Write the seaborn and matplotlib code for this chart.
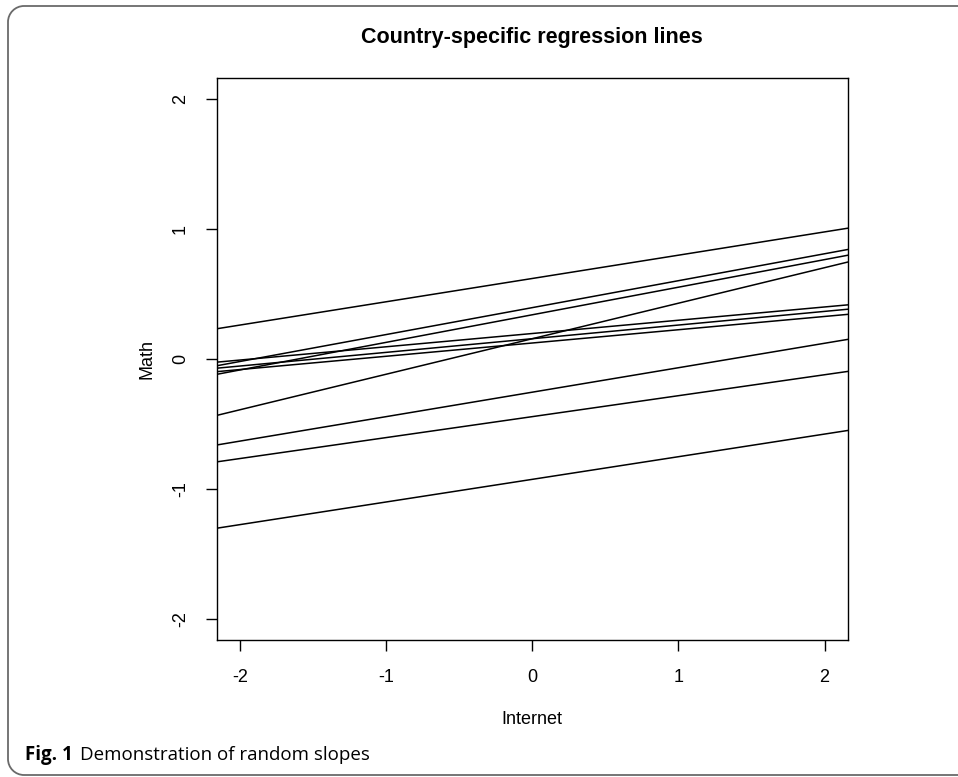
import numpy as np
import pandas as pd
import matplotlib
matplotlib.use("Agg")
import matplotlib.pyplot as plt
import seaborn as sns
from matplotlib.path import Path
from matplotlib.patches import PathPatch

# Country-specific regression lines: Math = intercept + slope * Internet
countries = ["C1", "C2", "C3", "C4", "C5", "C6", "C7", "C8", "C9", "C10"]
intercepts = [0.619, 0.395, 0.340, 0.156, 0.196, 0.156, 0.123, -0.255, -0.443, -0.925]
slopes = [0.179, 0.207, 0.212, 0.273, 0.102, 0.105, 0.102, 0.188, 0.161, 0.174]

x_ticks = [-2, -1, 0, 1, 2]
y_ticks = [-2, -1, 0, 1, 2]
x_lim = (-2.16, 2.16)
y_lim = (-2.16, 2.16)

rows = []
for c, a, b in zip(countries, intercepts, slopes):
    for xv in x_lim:
        rows.append({"country": c, "Internet": xv, "Math": a + b * xv})
df = pd.DataFrame(rows)

sns.set_theme(style="white")
plt.rcParams["font.family"] = ["Liberation Sans", "DejaVu Sans"]
plt.rcParams["text.color"] = "black"
plt.rcParams["axes.labelcolor"] = "black"

W, H = 958, 777
fig = plt.figure(figsize=(W / 100, H / 100), dpi=100)
ax = fig.add_axes([216.7 / W, 1 - 640 / H, (848 - 216.7) / W, (640 - 78) / H])

sns.lineplot(data=df, x="Internet", y="Math", units="country", estimator=None,
             color="black", linewidth=1.1, ax=ax, legend=False)

ax.set_xlim(*x_lim)
ax.set_ylim(*y_lim)
ax.set_xticks(x_ticks)
ax.set_yticks(y_ticks)
ax.set_xticklabels([str(t) for t in x_ticks], fontsize=13)
ax.set_yticklabels([str(t) for t in y_ticks], fontsize=13, rotation=90, va="center")
ax.tick_params(axis="both", which="major", bottom=True, left=True, top=False, right=False,
               direction="out", length=8, width=1.0, color="black", labelcolor="black")
ax.tick_params(axis="x", pad=13)
ax.tick_params(axis="y", pad=12)
for s in ax.spines.values():
    s.set_visible(True)
    s.set_color("black")
    s.set_linewidth(1.0)

ax.set_xlabel("Internet", fontsize=13, labelpad=18, color="black")
ax.set_ylabel("Math", fontsize=13, labelpad=12, color="black")
ax.set_title("Country-specific regression lines", fontsize=15.5, fontweight="bold",
             pad=25, color="black")

# outer frame: open on the right, rounded left corners
def px(x, y):
    return (x / W, 1 - y / H)

r = 16
left, top, bottom, right = 8, 6, 775, W + 20
k = 0.5523 * r
verts = [px(right, top), px(left + r, top),
         px(left + r - k, top), px(left, top + r - k), px(left, top + r),
         px(left, bottom - r),
         px(left, bottom - r + k), px(left + r - k, bottom), px(left + r, bottom),
         px(right, bottom)]
codes = [Path.MOVETO, Path.LINETO, Path.CURVE4, Path.CURVE4, Path.CURVE4,
         Path.LINETO, Path.CURVE4, Path.CURVE4, Path.CURVE4, Path.LINETO]
frame = PathPatch(Path(verts, codes), transform=fig.transFigure, fill=False,
                  edgecolor="#6a6a6a", linewidth=1.3, clip_on=False)
fig.patches.append(frame)

# caption
fig.text(25 / W, 1 - 755 / H, "Fig. 1", fontsize=13.5, fontweight="bold",
         family=["Open Sans", "DejaVu Sans"], va="center", ha="left")
fig.text(80 / W, 1 - 755 / H, "Demonstration of random slopes", fontsize=13.5,
         family=["Open Sans", "DejaVu Sans"], va="center", ha="left")

fig.savefig("out.png", dpi=100)
